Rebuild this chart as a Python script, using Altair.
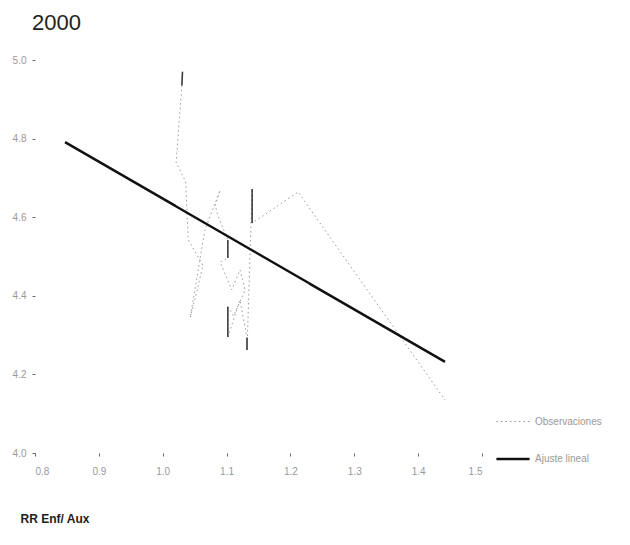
import altair as alt
import pandas as pd

chart_title = "2000"
x_title = "RR Enf/ Aux"
series_names = ["Observaciones", "Ajuste lineal"]

# observations, in drawing order
obs_x = [1.031, 1.030, 1.021, 1.036, 1.040, 1.063, 1.054, 1.043, 1.066, 1.090,
         1.082, 1.086, 1.102, 1.102, 1.090, 1.108, 1.121, 1.129, 1.111, 1.102,
         1.102, 1.121, 1.132, 1.132, 1.140, 1.140, 1.212, 1.442]
obs_y = [4.970, 4.935, 4.740, 4.690, 4.542, 4.478, 4.415, 4.344, 4.567, 4.669,
         4.631, 4.606, 4.542, 4.496, 4.486, 4.415, 4.466, 4.415, 4.349, 4.372,
         4.295, 4.389, 4.293, 4.262, 4.672, 4.585, 4.664, 4.135]

# linear fit end points
fit_x = [0.847, 1.442]
fit_y = [4.791, 4.232]

x_ticks = [0.8, 0.9, 1.0, 1.1, 1.2, 1.3, 1.4, 1.5]
y_ticks = [4.0, 4.2, 4.4, 4.6, 4.8, 5.0]

obs = pd.DataFrame({"x": obs_x, "y": obs_y, "i": range(len(obs_x)), "serie": series_names[0]})
fit = pd.DataFrame({"x": fit_x, "y": fit_y, "i": range(len(fit_x)), "serie": series_names[1]})
lines_df = pd.concat([obs, fit], ignore_index=True)

seg_rows = []
for k in range(len(obs_x) - 1):
    if abs(obs_x[k + 1] - obs_x[k]) < 0.002:
        seg_rows.append({"x": obs_x[k], "y": obs_y[k], "x2": obs_x[k + 1], "y2": obs_y[k + 1]})
segs = pd.DataFrame(seg_rows)

xscale = alt.Scale(domain=[0.8, 1.5], nice=False, zero=False)
yscale = alt.Scale(domain=[4.0, 5.0], nice=False, zero=False)

xaxis = alt.Axis(values=x_ticks, format=".1f", domain=False, grid=False, tickSize=3,
                 tickColor="#666", labelColor="#999", labelFontSize=10, labelPadding=10,
                 title=x_title, titleFontSize=12, titleFontWeight="bold", titleColor="#222",
                 titleAnchor="start", titleAlign="left", titleX=-15, titleY=69,
                 titleBaseline="alphabetic", titleFont="Liberation Sans")
yaxis = alt.Axis(values=y_ticks, format=".1f", domain=False, grid=False, tickSize=3,
                 tickColor="#666", labelColor="#999", labelFontSize=10, labelPadding=6,
                 title=None)

legend_spec = dict(title=None, orient="none", legendX=460, legendY=344,
                   symbolType="stroke", symbolSize=1100,
                   labelColor="#999", labelFontSize=10, rowPadding=14,
                   labelFont="Liberation Sans")

lines = alt.Chart(lines_df).mark_line().encode(
    x=alt.X("x:Q", scale=xscale, axis=xaxis),
    y=alt.Y("y:Q", scale=yscale, axis=yaxis),
    order=alt.Order("i:Q"),
    detail="serie:N",
    color=alt.Color("serie:N", scale=alt.Scale(domain=series_names, range=["#9a9a9a", "#111111"]),
                    legend=alt.Legend(**legend_spec)),
    strokeWidth=alt.StrokeWidth("serie:N", scale=alt.Scale(domain=series_names, range=[1, 2.5]),
                                legend=alt.Legend(**legend_spec)),
    strokeDash=alt.StrokeDash("serie:N", scale=alt.Scale(domain=series_names, range=[[1.5, 3], [1, 0]]),
                              legend=alt.Legend(**legend_spec)),
)

dark = alt.Chart(segs).mark_rule(color="#333", strokeWidth=1.5).encode(
    x=alt.X("x:Q", scale=xscale),
    y=alt.Y("y:Q", scale=yscale),
    x2="x2:Q",
    y2="y2:Q",
)

chart = alt.layer(lines, dark).properties(
    width=447,
    height=393,
    title=alt.Title(chart_title, anchor="start", fontSize=22, fontWeight="normal",
                    color="#222", dx=20, offset=20, font="Liberation Sans"),
    autosize=alt.AutoSizeParams(type="none"),
    padding={"left": 27, "top": 52, "right": 140, "bottom": 84},
).configure_view(stroke=None).configure_axis(labelFont="Liberation Sans")

chart.save("out.html", embed_options={"renderer": "svg", "actions": False})
